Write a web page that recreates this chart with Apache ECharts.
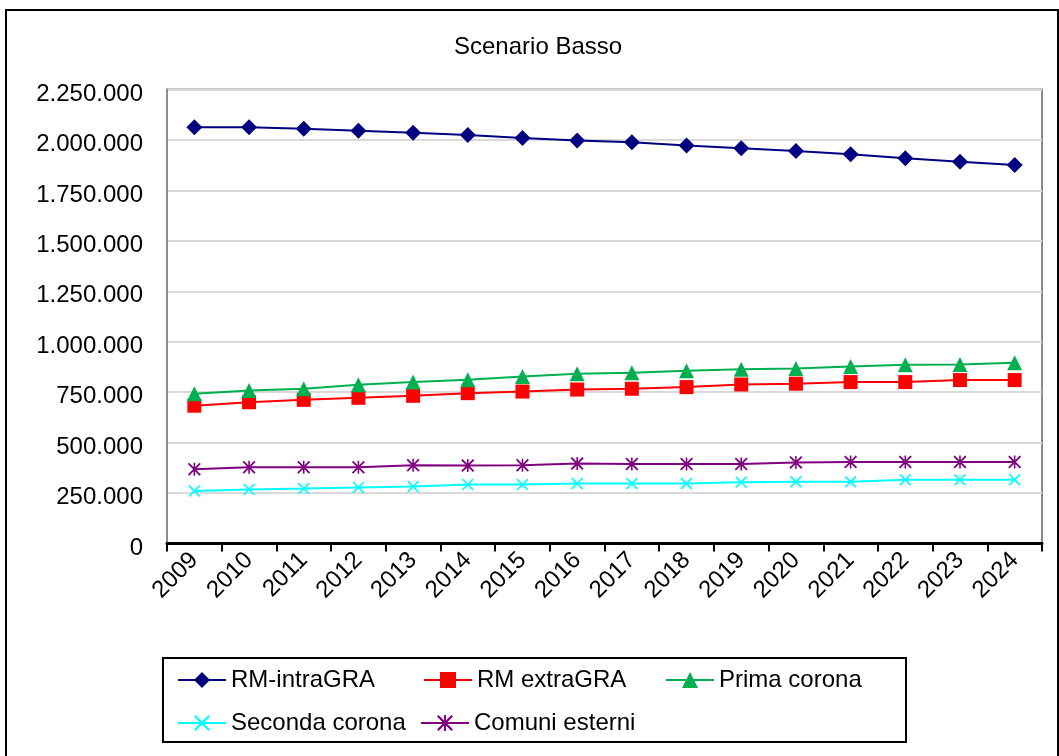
<!DOCTYPE html>
<html>
<head>
<meta charset="utf-8">
<script src="https://cdn.jsdelivr.net/npm/echarts@6/dist/echarts.min.js"></script>
<style>
  html, body { margin: 0; padding: 0; background: #fff; }
  #chart { width: 1059px; height: 756px; }
</style>
</head>
<body>
<div id="chart"></div>
<script>
const years = ["2009", "2010", "2011", "2012", "2013", "2014", "2015", "2016",
  "2017", "2018", "2019", "2020", "2021", "2022", "2023", "2024"];

const intraGRA = [2063000, 2063000, 2055000, 2046000, 2036000, 2025000, 2010000, 1997000,
  1989000, 1972000, 1959000, 1945000, 1929000, 1909000, 1892000, 1876000];
const extraGRA = [683000, 700000, 712000, 722000, 732000, 745000, 753000, 763000,
  767000, 775000, 788000, 792000, 800000, 800000, 810000, 810000];
const primaCorona = [742000, 758000, 767000, 787000, 800000, 812000, 828000, 841000,
  846000, 856000, 864000, 867000, 877000, 886000, 887000, 896000];
const secondaCorona = [260000, 268000, 272000, 278000, 282000, 292000, 292000, 297000,
  297000, 297000, 304000, 306000, 306000, 316000, 316000, 316000];
const comuniEsterni = [368000, 378000, 378000, 378000, 388000, 386000, 388000, 396000,
  394000, 394000, 394000, 402000, 404000, 404000, 404000, 404000];

const seriesNames = ["RM-intraGRA", "RM extraGRA", "Prima corona", "Seconda corona", "Comuni esterni"];

const FONT = "'Liberation Sans', Arial, sans-serif";

// x and asterisk markers as filled outlines
const xPath = "path://M0,1 L1,0 L5,4 L9,0 L10,1 L6,5 L10,9 L9,10 L5,6 L1,10 L0,9 L4,5 Z";
const starPath = xPath + " M4.4,0 L5.6,0 L5.6,10 L4.4,10 Z";

// 2250000 -> "2.250.000"
const fmt = (v) => "{v|" + String(v).replace(/\B(?=(\d{3})+(?!\d))/g, ".") + "}";

const chart = echarts.init(document.getElementById("chart"));

const makeSeries = (name, data, color, symbol, size) => ({
  name: name,
  type: "line",
  data: data,
  symbol: symbol,
  symbolSize: size,
  lineStyle: { color: color, width: 2 },
  itemStyle: { color: color },
  animation: false,
});

const legendPos = [
  { left: 177, top: 668 },
  { left: 423, top: 668 },
  { left: 665, top: 668 },
  { left: 177, top: 711 },
  { left: 420, top: 711 },
];

const option = {
  animation: false,
  title: {
    text: "Scenario Basso",
    left: 449,
    top: 30,
    textStyle: { fontFamily: FONT, fontSize: 24, fontWeight: "normal", color: "#000" },
  },
  legend: seriesNames.map((n, i) => ({
    data: [n],
    left: legendPos[i].left,
    top: legendPos[i].top,
    padding: 0,
    itemWidth: 48,
    itemHeight: 20,
    itemGap: 6,
    textStyle: { fontFamily: FONT, fontSize: 24, color: "#000" },
  })),
  grid: {
    left: 167,
    right: 17,
    top: 89.5,
    bottom: 212.5,
    show: true,
    borderColor: "#8c8c8c",
    borderWidth: 2,
  },
  xAxis: {
    type: "category",
    data: years,
    boundaryGap: true,
    axisLine: { lineStyle: { color: "#000", width: 3 } },
    axisTick: { show: true, length: 8, lineStyle: { color: "#000", width: 2 } },
    axisLabel: {
      rotate: 45,
      margin: 13,
      fontFamily: FONT,
      fontSize: 24,
      color: "#000",
    },
  },
  yAxis: {
    type: "value",
    min: 0,
    max: 2250000,
    interval: 250000,
    axisLine: { show: true, lineStyle: { color: "#8c8c8c", width: 2 } },
    axisTick: { show: false },
    splitLine: { lineStyle: { color: "#d9d9d9", width: 2 } },
    axisLabel: {
      margin: 24,
      formatter: fmt,
      rich: {
        v: {
          fontFamily: FONT,
          fontSize: 24,
          color: "#000",
          padding: [9, 0, 0, 0],
        },
      },
    },
  },
  graphic: [
    {
      type: "rect",
      shape: { x: 6, y: 10, width: 1052, height: 780 },
      style: { fill: "none", stroke: "#000", lineWidth: 2 },
      silent: true,
    },
    {
      type: "rect",
      shape: { x: 163, y: 658, width: 743, height: 84 },
      style: { fill: "none", stroke: "#000", lineWidth: 2 },
      silent: true,
    },
  ],
  series: [
    makeSeries(seriesNames[0], intraGRA, "#000080", "diamond", 16),
    makeSeries(seriesNames[1], extraGRA, "#ff0000", "rect", 14),
    makeSeries(seriesNames[2], primaCorona, "#00b050", "triangle", 15),
    makeSeries(seriesNames[3], secondaCorona, "#00ffff", xPath, 12),
    makeSeries(seriesNames[4], comuniEsterni, "#800080", starPath, 13),
  ],
};

chart.setOption(option);
</script>
</body>
</html>
